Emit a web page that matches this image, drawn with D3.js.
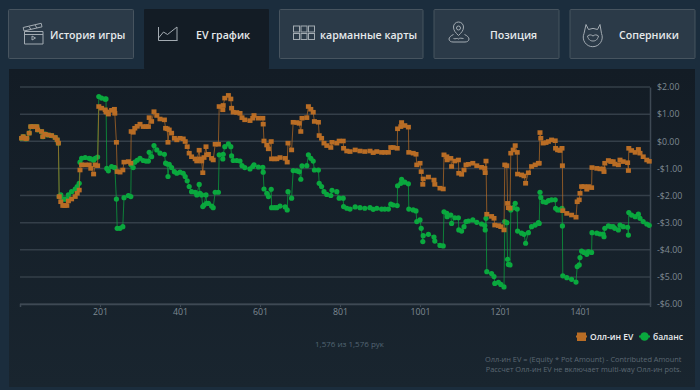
<!DOCTYPE html>
<html>
<head>
<meta charset="utf-8">
<script src="https://cdn.jsdelivr.net/npm/d3@7"></script>
<style>
  html, body { margin: 0; padding: 0; background: #1b2d3d; }
  svg { display: block; }
  text { font-family: "Open Sans", sans-serif; }
</style>
</head>
<body>
<div id="chart"></div>
<script>
const tabLabels = ["История игры", "EV график", "карманные карты", "Позиция", "Соперники"];
const xTicks = [201, 401, 601, 801, 1001, 1201, 1401];
const yTicks = [2, 1, 0, -1, -2, -3, -4, -5, -6];
const legendLabels = ["Олл-ин EV", "баланс"];

// hand number of each read point, shared by both series
const hands = [
  5, 9, 16, 18, 24, 28, 34, 43, 45, 55, 58, 64, 72, 80, 89, 94, 97,
  99, 103, 108, 113, 118, 122, 130, 139, 144, 149, 151, 155, 164, 174, 178, 185, 189, 195,
  198, 205, 214, 216, 218, 222, 230, 237, 238, 242, 244, 251, 258, 261, 272, 278,
  279, 284, 288, 294, 301, 309, 316, 322, 324, 330, 336, 343, 351, 362, 365, 369, 371, 374, 380, 387, 393, 401,
  409, 414, 419, 424, 430, 439, 443, 449, 451, 455, 458, 461, 466, 468, 472, 480, 484,
  489, 497, 499, 508, 509, 513, 522, 528, 530, 534, 543, 551, 556, 563, 576, 583, 586, 597, 608,
  609, 611, 618, 622, 629, 630, 637, 643, 651, 664, 669, 671, 680, 684, 693, 699, 703, 706, 718,
  722, 728, 734, 737, 747, 749, 755, 761, 768, 778, 781, 793, 799, 809, 810, 818, 826, 839,
  851, 863, 876, 884, 893, 905, 913, 922, 928, 934, 944,
  945, 953, 955, 963, 972, 973, 984, 991, 993, 1001, 1004, 1008, 1009, 1022, 1036, 1038, 1051, 1059,
  1061, 1068, 1069, 1078, 1080, 1088, 1097, 1098, 1105, 1111, 1116, 1122, 1133, 1143, 1155, 1163, 1164, 1166,
  1168, 1180, 1186, 1188, 1197, 1203, 1211, 1213, 1218, 1220, 1222, 1226, 1228, 1234, 1239, 1244,
  1245, 1255, 1261, 1265, 1272, 1280, 1289, 1297, 1299,
  1301, 1303, 1309, 1316, 1322, 1330, 1339, 1340, 1345, 1351, 1356, 1357,
  1358, 1368, 1380, 1391, 1394, 1399, 1401, 1405, 1411, 1418, 1422, 1430,
  1431, 1443, 1451, 1459, 1461, 1463, 1472, 1478, 1484, 1488, 1497, 1501, 1509, 1520, 1522,
  1523, 1530, 1539, 1547, 1551, 1559, 1568, 1574
];

const evValues = [
  0.11, 0.17, 0.09, 0.11, 0.30, 0.54, 0.54, 0.54, 0.42, 0.36, 0.17, 0.26, 0.23, 0.21, 0.14, 0.05, -0.07,
  -2.04, -2.23, -2.37, -2.37, -2.37, -2.20, -2.13, -2.04, -1.92, -1.80, -1.06, -0.87, -0.87, -0.87, -1.00, -1.21, -0.87, -0.90,
  1.28, 1.22, 1.16, 1.09, 1.07, 1.00, 1.14, 1.18, 1.03, -0.04, -1.12, -1.14, -1.06, -0.77, -0.75, -0.81,
  0.36, 0.33, 0.48, 0.55, 0.63, 0.54, 0.54, 0.54, 0.87, 0.73, 1.09, 0.95, 0.82, 0.79, 0.48, 0.46, -0.04, 0.42, 0.30, 0.11, 0.05, 0.11,
  0.09, -0.01, -0.20, -0.44, -0.57, -0.65, -0.73, -0.33, -0.65, -0.73, -1.16, -0.60, -0.20, -0.50, -0.48, -0.63, -0.69,
  -0.11, -0.11, 1.28, 1.16, 1.32, 1.59, 1.69, 1.56, 1.22, 1.07, 1.06, 1.03, 0.87, 0.79, 0.76, 0.85, 0.95, 0.85, 0.85,
  0.63, 0.01, -0.14, -0.28, -0.01, -0.65, -0.65, -0.65, -0.60, -0.63, -0.77, -0.07, -0.32, 0.70, 0.69, 0.66, 0.36, 0.85, 0.87,
  1.28, 1.18, 1.07, 0.73, 0.70, 0.21, 0.11, -0.07, -0.16, -0.23, -0.04, -0.07, 0.01, 0.01, -0.26, -0.36, -0.38, -0.32,
  -0.36, -0.38, -0.36, -0.42, -0.38, -0.41, -0.41, -0.41, -0.23, -0.23, -0.26,
  0.46, 0.54, 0.69, 0.58, 0.52, -0.41, -0.44, -0.48, -0.87, -0.81, -1.12, -1.59, -1.39, -1.32, -1.43, -1.59, -1.73, -1.76,
  -0.50, -0.57, -0.69, -0.63, -0.93, -0.73, -0.69, -1.18, -1.22, -1.06, -0.87, -0.85, -0.81, -0.90, -0.96, -1.00, -1.16, -0.73,
  -2.69, -2.77, -2.84, -3.09, -3.11, -3.15, -3.27, -0.87, -0.90, -2.29, -2.45, -2.47, -0.44, -0.32, -0.16, -0.41,
  -1.21, -1.24, -1.28, -1.55, -1.16, -0.93, -0.87, -0.81, -0.81,
  0.32, 0.11, -0.07, -0.05, -0.01, 0.05, 0.02, -0.26, -0.32, -0.34, -0.26, -0.90,
  -2.56, -2.66, -2.72, -2.80, -2.23, -2.16, -1.92, -1.67, -1.67, -1.77, -1.67, -1.71,
  -0.97, -1.00, -1.02, -1.02, -1.12, -0.81, -0.71, -0.75, -0.75, -0.84, -0.87, -0.69, -0.75, -0.79, -1.08,
  -0.26, -0.34, -0.41, -0.30, -0.44, -0.57, -0.69, -0.74
];

const balanceValues = [
  0.11, 0.17, 0.09, 0.11, 0.30, 0.54, 0.54, 0.54, 0.42, 0.36, 0.17, 0.26, 0.23, 0.21, 0.14, 0.05, -0.07,
  -2.04, -1.98, -2.13, -2.13, -2.13, -1.98, -1.86, -1.76, -1.67, -1.55, -0.77, -0.63, -0.60, -0.63, -0.65, -0.70, -0.63, -0.58,
  1.65, 1.59, 1.55, 1.56, -1.00, -1.09, -0.93, -0.97, -0.97, -2.13, -3.21, -3.21, -3.15, -2.08, -2.00, -2.04,
  -0.87, -0.97, -0.77, -0.70, -0.63, -0.71, -0.73, -0.73, -0.41, -0.57, -0.16, -0.32, -0.44, -0.48, -0.81, -0.84, -1.30, -0.85, -0.97, -1.12, -1.18, -1.14,
  -1.18, -1.30, -1.46, -1.67, -1.86, -1.88, -1.98, -1.59, -1.92, -1.98, -2.41, -2.35, -1.98, -2.29, -2.29, -2.39, -2.45,
  -1.88, -1.88, -0.50, -0.65, -0.48, -0.20, -0.10, -0.20, -0.54, -0.71, -0.71, -0.73, -0.90, -0.97, -1.02, -0.93, -0.87, -0.95, -0.96,
  -1.14, -1.76, -1.92, -2.04, -1.77, -2.45, -2.45, -2.45, -2.39, -2.42, -2.53, -1.86, -2.10, -1.08, -1.09, -1.12, -1.40, -0.91, -0.90,
  -0.50, -0.63, -0.73, -1.06, -1.06, -1.55, -1.67, -1.86, -1.96, -2.00, -1.81, -1.86, -2.10, -2.10, -2.41, -2.47, -2.50, -2.42,
  -2.45, -2.47, -2.45, -2.51, -2.47, -2.50, -2.50, -2.50, -2.32, -2.35, -2.37,
  -1.64, -1.55, -1.40, -1.51, -1.57, -2.50, -2.53, -2.57, -2.96, -2.90, -3.21, -3.70, -3.48, -3.43, -3.53, -3.68, -3.84, -3.86,
  -2.60, -2.66, -2.78, -2.72, -3.03, -2.82, -2.82, -3.27, -3.31, -3.15, -2.96, -2.94, -2.90, -2.99, -3.05, -3.11, -3.27, -2.84,
  -4.81, -4.88, -4.99, -5.24, -5.20, -5.28, -5.37, -2.96, -3.00, -4.35, -4.54, -4.56, -2.53, -2.45, -2.29, -2.50,
  -3.31, -3.39, -3.43, -3.76, -3.37, -3.15, -3.09, -3.00, -3.03,
  -1.88, -2.07, -2.23, -2.25, -2.19, -2.16, -2.16, -2.47, -2.53, -2.53, -2.47, -3.12,
  -4.96, -5.03, -5.09, -5.19, -4.62, -4.56, -4.29, -4.05, -4.10, -4.17, -4.07, -4.10,
  -3.37, -3.39, -3.42, -3.42, -3.52, -3.21, -3.12, -3.15, -3.15, -3.21, -3.27, -3.09, -3.15, -3.17, -3.46,
  -2.63, -2.72, -2.78, -2.69, -2.84, -2.96, -3.05, -3.10
];

const width = 700;
const height = 390;
const orange = "#b96d25";
const green = "#0aa83e";

const svg = d3.select("#chart").append("svg").attr("width", width).attr("height", height);

svg.append("rect").attr("width", width).attr("height", height).attr("fill", "#1b2d3d");

// Dark panel that holds the chart, a little lighter towards the bottom
const panelFade = svg
  .append("defs")
  .append("linearGradient")
  .attr("id", "panelFade")
  .attr("x1", 0)
  .attr("x2", 0)
  .attr("y1", 0)
  .attr("y2", 1);
panelFade.append("stop").attr("offset", "0%").attr("stop-color", "#131c25");
panelFade.append("stop").attr("offset", "100%").attr("stop-color", "#19252f");

svg.append("rect").attr("x", 9).attr("y", 69).attr("width", 686).attr("height", 318).attr("fill", "url(#panelFade)");

// Tabs across the top
const tabBoxes = [
  { x: 8.5, w: 125, textX: 50 },
  { x: 144, w: 125, textX: 196 },
  { x: 279.5, w: 143.5, textX: 320 },
  { x: 434, w: 125, textX: 490 },
  { x: 570, w: 125, textX: 619 },
];

tabBoxes.forEach(function (b, i) {
  const active = i === 1;
  svg
    .append("rect")
    .attr("x", b.x)
    .attr("y", active ? 9 : 9.5)
    .attr("width", b.w)
    .attr("height", active ? 60 : 49)
    .attr("rx", 1)
    .attr("fill", active ? "#131c25" : "#2b3a48")
    .attr("stroke", active ? "none" : "#47545f")
    .attr("stroke-width", 1);
  svg
    .append("text")
    .attr("x", b.textX)
    .attr("y", 38.5)
    .attr("fill", "#e6e9eb")
    .attr("font-size", 10.6)
    .attr("font-weight", 600)
    .text(tabLabels[i]);
});

// Tab icons, thin outlines only
const iconGroup = svg
  .append("g")
  .attr("fill", "none")
  .attr("stroke", "#a3abb2")
  .attr("stroke-width", 1);

// clapperboard
iconGroup.append("path").attr("d", "M24.5 31.5h18.500v12.500h-18.500zM24 31l-0.800-3.500 18-4.200 0.800 3.500zM24.500 34.500h18.500M29 26.500l2 3M35 25l2 3");
iconGroup.append("path").attr("d", "M32 36v4l3.500-2z");
// line chart
iconGroup.append("path").attr("d", "M158.500 27v13.500h19M158.500 38l5-6 4 2.500 9.500-7.500v13.500");
// card grid
iconGroup
  .selectAll("rect.card")
  .data(d3.cross([293.5, 301, 308.5], [26, 33.5]))
  .enter()
  .append("rect")
  .attr("x", (d) => d[0])
  .attr("y", (d) => d[1])
  .attr("width", 6)
  .attr("height", 6);
// position pin
iconGroup.append("path").attr("d", "M458.500 35.500c-3-3-5-5-5-8.500a5 5 0 0 1 10 0c0 3.500-2 5.500-5 8.500z");
iconGroup.append("circle").attr("cx", 458.500).attr("cy", 28).attr("r", 2);
iconGroup.append("path").attr("d", "M453.500 34.500c-2.500 1-4.500 3-4.500 4.500 0 2 2 3 4 3h12c2 0 4-1 4-3 0-1.500-2-3.500-4.500-4.500M453.500 38.500c2 1 3.500-1 5 0.500 1.500-1.500 3-0.500 5-0.500");
// opponent cat face
iconGroup.append("path").attr("d", "M586 24.500l2.500 5a10 10 0 0 1 9 0l2.500-5 1.500 9a9.500 9.500 0 1 1-17.500 0z");
iconGroup.append("path").attr("d", "M587.500 36c2-1.500 3.500-1.500 5.500 0 2-1.500 3.500-1.500 5.500 0-1 4-3 5-5.500 5s-4.500-1-5.500-5z");

// Scales and axes
const x = d3.scaleLinear().domain([1, 1576]).range([20, 650]);
const y = d3.scaleLinear().domain([2, -6]).range([87, 304]);

svg
  .append("g")
  .selectAll("line")
  .data(yTicks)
  .enter()
  .append("line")
  .attr("x1", x(1))
  .attr("x2", x(1576))
  .attr("y1", (d) => y(d))
  .attr("y2", (d) => y(d))
  .attr("stroke", "#343f49")
  .attr("stroke-width", 1.500);

const yAxis = svg
  .append("g")
  .attr("transform", "translate(650,0)")
  .call(
    d3
      .axisRight(y)
      .tickValues(yTicks)
      .tickSize(0)
      .tickPadding(7)
      .tickFormat((d) => (d < 0 ? "-$" : "$") + Math.abs(d).toFixed(2))
  );

const xAxis = svg
  .append("g")
  .attr("transform", "translate(0,304)")
  .call(d3.axisBottom(x).tickValues(xTicks).tickSize(3).tickPadding(2).tickFormat(d3.format("d")));

[yAxis, xAxis].forEach(function (axis) {
  axis.selectAll(".domain").attr("stroke", "#3e4954").attr("stroke-width", 1.500);
  axis.selectAll(".tick line").attr("stroke", "#3e4954");
  axis
    .selectAll(".tick text")
    .attr("fill", "#7e8992")
    .style("font-family", '"Open Sans", sans-serif')
    .style("font-size", "8.800px");
});

// Green goes first: the orange series sits on top where they coincide
function drawLine(values, colour) {
  const line = d3
    .line()
    .x((d, i) => x(hands[i]))
    .y((d) => y(d));
  svg
    .append("path")
    .datum(values)
    .attr("fill", "none")
    .attr("stroke", colour)
    .attr("stroke-width", 1)
    .attr("stroke-opacity", 0.7)
    .attr("d", line);
}

drawLine(balanceValues, green);
svg
  .append("g")
  .selectAll("circle")
  .data(balanceValues)
  .enter()
  .append("circle")
  .attr("cx", (d, i) => x(hands[i]))
  .attr("cy", (d) => y(d))
  .attr("r", 2.600)
  .attr("fill", green);

drawLine(evValues, orange);
svg
  .append("g")
  .selectAll("rect")
  .data(evValues)
  .enter()
  .append("rect")
  .attr("x", (d, i) => x(hands[i]) - 2.500)
  .attr("y", (d) => y(d) - 2.300)
  .attr("width", 5)
  .attr("height", 4.600)
  .attr("fill", orange);

// Legend
svg.append("line").attr("x1", 576).attr("x2", 587).attr("y1", 336.500).attr("y2", 336.500).attr("stroke", orange).attr("stroke-width", 2);
svg.append("rect").attr("x", 577).attr("y", 332.500).attr("width", 9).attr("height", 8.500).attr("fill", orange);
svg.append("text").attr("x", 590).attr("y", 339.500).attr("fill", "#e8ebed").attr("font-size", 8.500).attr("font-weight", 600).text(legendLabels[0]);

svg.append("line").attr("x1", 639).attr("x2", 650).attr("y1", 336.500).attr("y2", 336.500).attr("stroke", green).attr("stroke-width", 2);
svg.append("circle").attr("cx", 644.500).attr("cy", 336.500).attr("r", 4.300).attr("fill", green);
svg.append("text").attr("x", 653).attr("y", 339.500).attr("fill", "#e8ebed").attr("font-size", 8.500).attr("font-weight", 600).text(legendLabels[1]);

// Footer notes
svg.append("text").attr("x", 315).attr("y", 347).attr("fill", "#536473").attr("font-size", 8).text("1,576 из 1,576 рук");
svg.append("text").attr("x", 681.500).attr("y", 361.500).attr("text-anchor", "end").attr("fill", "#5c6873").attr("font-size", 7.400).text("Олл-ин EV = (Equity * Pot Amount) - Contributed Amount");
svg.append("text").attr("x", 681.500).attr("y", 371.500).attr("text-anchor", "end").attr("fill", "#5c6873").attr("font-size", 7.400).text("Рассчет Олл-ин EV не включает multi-way Олл-ин pots.");
</script>
</body>
</html>
